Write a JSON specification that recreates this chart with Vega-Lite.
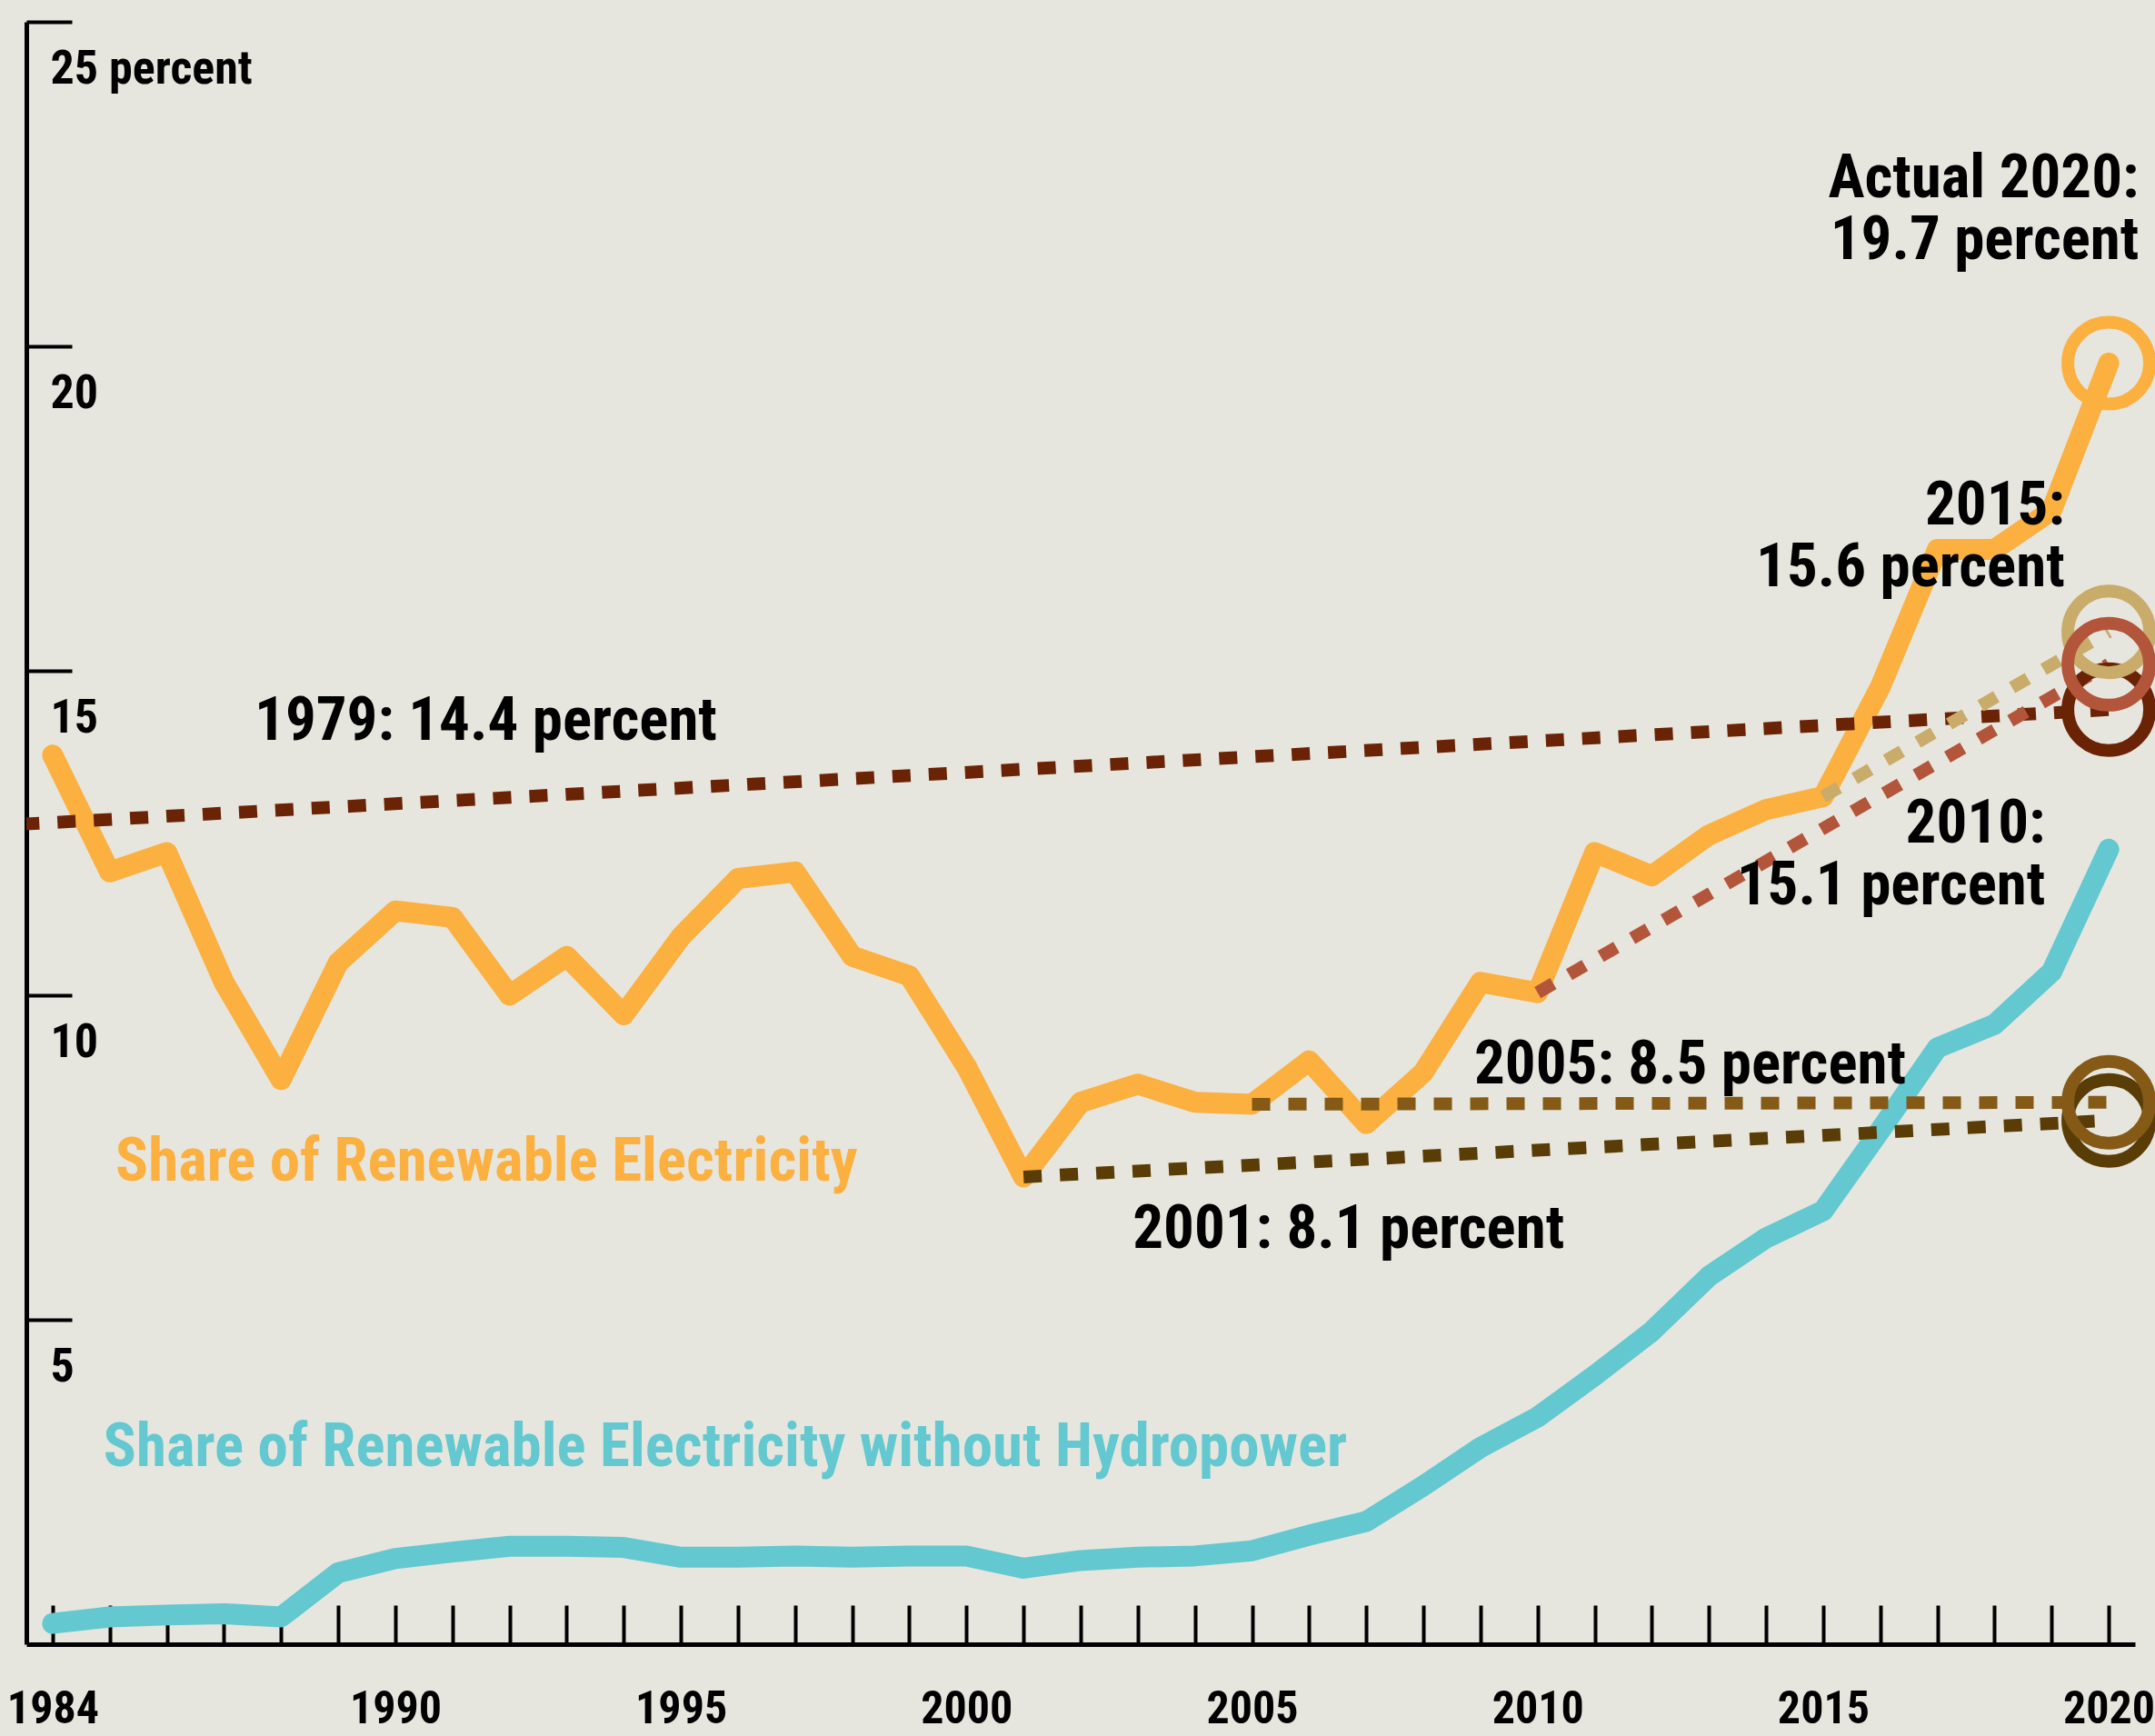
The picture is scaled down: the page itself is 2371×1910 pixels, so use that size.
{
  "$schema": "https://vega.github.io/schema/vega-lite/v6.json",
  "width": 2320,
  "height": 1785,
  "autosize": {"type": "none"},
  "padding": {"left": 29, "top": 24, "right": 22, "bottom": 101},
  "background": "#E6E6DE",
  "config": {
    "view": {"stroke": null},
    "font": "Roboto Condensed, DejaVu Sans Condensed, sans-serif",
    "axis": {
      "grid": false,
      "title": null,
      "domainColor": "#000000",
      "domainWidth": 5,
      "tickColor": "#000000",
      "tickWidth": 4,
      "labelColor": "#000000",
      "labelFont": "Roboto Condensed, DejaVu Sans Condensed, sans-serif",
      "labelFontWeight": "bold",
      "labelFontSize": 52,
      "labelOverlap": false,
      "labelFlush": false,
      "labelLimit": 0
    }
  },
  "datasets": {
    "lines": [
      {"series": "Without hydropower", "year": 1984, "value": 0.32},
      {"series": "Without hydropower", "year": 1985, "value": 0.42},
      {"series": "Without hydropower", "year": 1986, "value": 0.45},
      {"series": "Without hydropower", "year": 1987, "value": 0.47},
      {"series": "Without hydropower", "year": 1988, "value": 0.42},
      {"series": "Without hydropower", "year": 1989, "value": 1.1},
      {"series": "Without hydropower", "year": 1990, "value": 1.32},
      {"series": "Without hydropower", "year": 1991, "value": 1.42},
      {"series": "Without hydropower", "year": 1992, "value": 1.51},
      {"series": "Without hydropower", "year": 1993, "value": 1.51},
      {"series": "Without hydropower", "year": 1994, "value": 1.49},
      {"series": "Without hydropower", "year": 1995, "value": 1.34},
      {"series": "Without hydropower", "year": 1996, "value": 1.34},
      {"series": "Without hydropower", "year": 1997, "value": 1.36},
      {"series": "Without hydropower", "year": 1998, "value": 1.34},
      {"series": "Without hydropower", "year": 1999, "value": 1.36},
      {"series": "Without hydropower", "year": 2000, "value": 1.36},
      {"series": "Without hydropower", "year": 2001, "value": 1.17},
      {"series": "Without hydropower", "year": 2002, "value": 1.29},
      {"series": "Without hydropower", "year": 2003, "value": 1.34},
      {"series": "Without hydropower", "year": 2004, "value": 1.36},
      {"series": "Without hydropower", "year": 2005, "value": 1.44},
      {"series": "Without hydropower", "year": 2006, "value": 1.68},
      {"series": "Without hydropower", "year": 2007, "value": 1.89},
      {"series": "Without hydropower", "year": 2008, "value": 2.44},
      {"series": "Without hydropower", "year": 2009, "value": 3.03},
      {"series": "Without hydropower", "year": 2010, "value": 3.5},
      {"series": "Without hydropower", "year": 2011, "value": 4.14},
      {"series": "Without hydropower", "year": 2012, "value": 4.82},
      {"series": "Without hydropower", "year": 2013, "value": 5.67},
      {"series": "Without hydropower", "year": 2014, "value": 6.26},
      {"series": "Without hydropower", "year": 2015, "value": 6.68},
      {"series": "Without hydropower", "year": 2016, "value": 7.92},
      {"series": "Without hydropower", "year": 2017, "value": 9.19},
      {"series": "Without hydropower", "year": 2018, "value": 9.55},
      {"series": "Without hydropower", "year": 2019, "value": 10.36},
      {"series": "Without hydropower", "year": 2020, "value": 12.25},
      {"series": "Actual", "year": 1984, "value": 13.7},
      {"series": "Actual", "year": 1985, "value": 11.9},
      {"series": "Actual", "year": 1986, "value": 12.2},
      {"series": "Actual", "year": 1987, "value": 10.2},
      {"series": "Actual", "year": 1988, "value": 8.7},
      {"series": "Actual", "year": 1989, "value": 10.5},
      {"series": "Actual", "year": 1990, "value": 11.3},
      {"series": "Actual", "year": 1991, "value": 11.2},
      {"series": "Actual", "year": 1992, "value": 10.0},
      {"series": "Actual", "year": 1993, "value": 10.6},
      {"series": "Actual", "year": 1994, "value": 9.7},
      {"series": "Actual", "year": 1995, "value": 10.9},
      {"series": "Actual", "year": 1996, "value": 11.8},
      {"series": "Actual", "year": 1997, "value": 11.9},
      {"series": "Actual", "year": 1998, "value": 10.6},
      {"series": "Actual", "year": 1999, "value": 10.3},
      {"series": "Actual", "year": 2000, "value": 8.9},
      {"series": "Actual", "year": 2001, "value": 7.2},
      {"series": "Actual", "year": 2002, "value": 8.35},
      {"series": "Actual", "year": 2003, "value": 8.63},
      {"series": "Actual", "year": 2004, "value": 8.35},
      {"series": "Actual", "year": 2005, "value": 8.32},
      {"series": "Actual", "year": 2006, "value": 8.99},
      {"series": "Actual", "year": 2007, "value": 8.02},
      {"series": "Actual", "year": 2008, "value": 8.81},
      {"series": "Actual", "year": 2009, "value": 10.2},
      {"series": "Actual", "year": 2010, "value": 10.04},
      {"series": "Actual", "year": 2011, "value": 12.2},
      {"series": "Actual", "year": 2012, "value": 11.84},
      {"series": "Actual", "year": 2013, "value": 12.47},
      {"series": "Actual", "year": 2014, "value": 12.86},
      {"series": "Actual", "year": 2015, "value": 13.06},
      {"series": "Actual", "year": 2016, "value": 14.75},
      {"series": "Actual", "year": 2017, "value": 16.87},
      {"series": "Actual", "year": 2018, "value": 16.87},
      {"series": "Actual", "year": 2019, "value": 17.47},
      {"series": "Actual", "year": 2020, "value": 19.74}
    ],
    "targets": [
      {"series": "1979", "year": 1979, "value": 12.42},
      {"series": "1979", "year": 2020, "value": 14.4},
      {"series": "2001", "year": 2001, "value": 7.2},
      {"series": "2001", "year": 2020, "value": 8.07},
      {"series": "2005", "year": 2005, "value": 8.32},
      {"series": "2005", "year": 2020, "value": 8.35},
      {"series": "2010", "year": 2010, "value": 10.04},
      {"series": "2010", "year": 2020, "value": 15.1},
      {"series": "2015", "year": 2015, "value": 13.06},
      {"series": "2015", "year": 2020, "value": 15.6}
    ],
    "rings": [
      {"series": "1979", "year": 2020, "value": 14.4},
      {"series": "2015", "year": 2020, "value": 15.6},
      {"series": "2010", "year": 2020, "value": 15.1},
      {"series": "2001", "year": 2020, "value": 8.07},
      {"series": "2005", "year": 2020, "value": 8.35},
      {"series": "Actual", "year": 2020, "value": 19.74}
    ],
    "labelsLeft": [
      {"text": "1979: 14.4 percent", "year": 1987.535, "value": 13.94, "kind": "note"},
      {"text": "2001: 8.1 percent", "year": 2002.91, "value": 6.106, "kind": "note"},
      {"text": "2005: 8.5 percent", "year": 2008.89, "value": 8.642, "kind": "note"},
      {"text": "Share of Renewable Electricity", "year": 1985.1, "value": 7.143, "kind": "Actual"},
      {"text": "Share of Renewable Electricity without Hydropower", "year": 1984.89, "value": 2.745, "kind": "Without hydropower"}
    ],
    "labelsRight": [
      {"text": "2010:\n15.1 percent", "year": 2018.89, "value": 12.353},
      {"text": "2015:\n15.6 percent", "year": 2019.23, "value": 17.255},
      {"text": "Actual 2020:\n19.7 percent", "year": 2020.53, "value": 22.297}
    ]
  },
  "layer": [
    {
      "data": {"name": "lines"},
      "transform": [{"filter": "datum.series == 'Without hydropower'"}],
      "mark": {"type": "line", "strokeWidth": 23, "strokeCap": "round", "strokeJoin": "round", "color": "#63C8D0"},
      "encoding": {
        "x": {
          "field": "year", "type": "quantitative",
          "scale": {"domain": [1983.54, 2020.46], "nice": false, "zero": false},
          "axis": {
            "values": [1984,1985,1986,1987,1988,1989,1990,1991,1992,1993,1994,1995,1996,1997,1998,1999,2000,2001,2002,2003,2004,2005,2006,2007,2008,2009,2010,2011,2012,2013,2014,2015,2016,2017,2018,2019,2020],
            "labelExpr": "(datum.value == 1984 || (datum.value >= 1990 && datum.value % 5 == 0)) ? toString(datum.value) : ''",
            "tickSize": -43,
            "labelPadding": 129,
            "labelFontSize": 50,
            "labelBaseline": "alphabetic"
          }
        },
        "y": {
          "field": "value", "type": "quantitative",
          "scale": {"domain": [0, 25], "nice": false, "zero": true},
          "axis": {
            "values": [5, 10, 15, 20, 25],
            "labelExpr": "datum.value == 25 ? '25 percent' : toString(datum.value)",
            "tickSize": -50,
            "labelPadding": 24,
            "labelAlign": "left",
            "labelBaseline": "alphabetic",
            "labelOffset": 67
          }
        }
      }
    },
    {
      "data": {"name": "lines"},
      "transform": [{"filter": "datum.series == 'Actual'"}],
      "mark": {"type": "line", "strokeWidth": 23, "strokeCap": "round", "strokeJoin": "round", "color": "#FBB040"},
      "encoding": {
        "x": {"field": "year", "type": "quantitative"},
        "y": {"field": "value", "type": "quantitative"}
      }
    },
    {
      "data": {"name": "targets"},
      "mark": {"type": "line", "strokeWidth": 14, "strokeDash": [20, 20], "strokeCap": "butt", "clip": true},
      "encoding": {
        "x": {"field": "year", "type": "quantitative"},
        "y": {"field": "value", "type": "quantitative"},
        "color": {
          "field": "series", "type": "nominal", "legend": null,
          "scale": {
            "domain": ["Actual", "Without hydropower", "1979", "2001", "2005", "2010", "2015"],
            "range": ["#FBB040", "#63C8D0", "#6B2306", "#5A3D06", "#855A17", "#B3553A", "#C9AB6A"]
          }
        }
      }
    },
    {
      "data": {"name": "rings"},
      "mark": {"type": "point", "shape": "circle", "filled": false, "size": 8100, "strokeWidth": 14, "opacity": 1},
      "encoding": {
        "x": {"field": "year", "type": "quantitative"},
        "y": {"field": "value", "type": "quantitative"},
        "color": {
          "field": "series", "type": "nominal", "legend": null,
          "scale": {
            "domain": ["Actual", "Without hydropower", "1979", "2001", "2005", "2010", "2015"],
            "range": ["#FBB040", "#63C8D0", "#6B2306", "#5A3D06", "#855A17", "#B3553A", "#C9AB6A"]
          }
        }
      }
    },
    {
      "data": {"name": "labelsLeft"},
      "mark": {"type": "text", "align": "left", "baseline": "alphabetic", "fontSize": 67, "fontWeight": "bold", "font": "Roboto Condensed, DejaVu Sans Condensed, sans-serif"},
      "encoding": {
        "x": {"field": "year", "type": "quantitative"},
        "y": {"field": "value", "type": "quantitative"},
        "text": {"field": "text"},
        "color": {
          "field": "kind", "type": "nominal", "legend": null,
          "scale": {"domain": ["note", "Actual", "Without hydropower"], "range": ["#000000", "#FBB040", "#63C8D0"]}
        }
      }
    },
    {
      "data": {"name": "labelsRight"},
      "mark": {"type": "text", "align": "right", "baseline": "alphabetic", "lineBreak": "\n", "lineHeight": 68, "fontSize": 67, "fontWeight": "bold", "color": "#000000", "font": "Roboto Condensed, DejaVu Sans Condensed, sans-serif"},
      "encoding": {
        "x": {"field": "year", "type": "quantitative"},
        "y": {"field": "value", "type": "quantitative"},
        "text": {"field": "text"}
      }
    }
  ],
  "resolve": {"scale": {"color": "independent"}}
}
